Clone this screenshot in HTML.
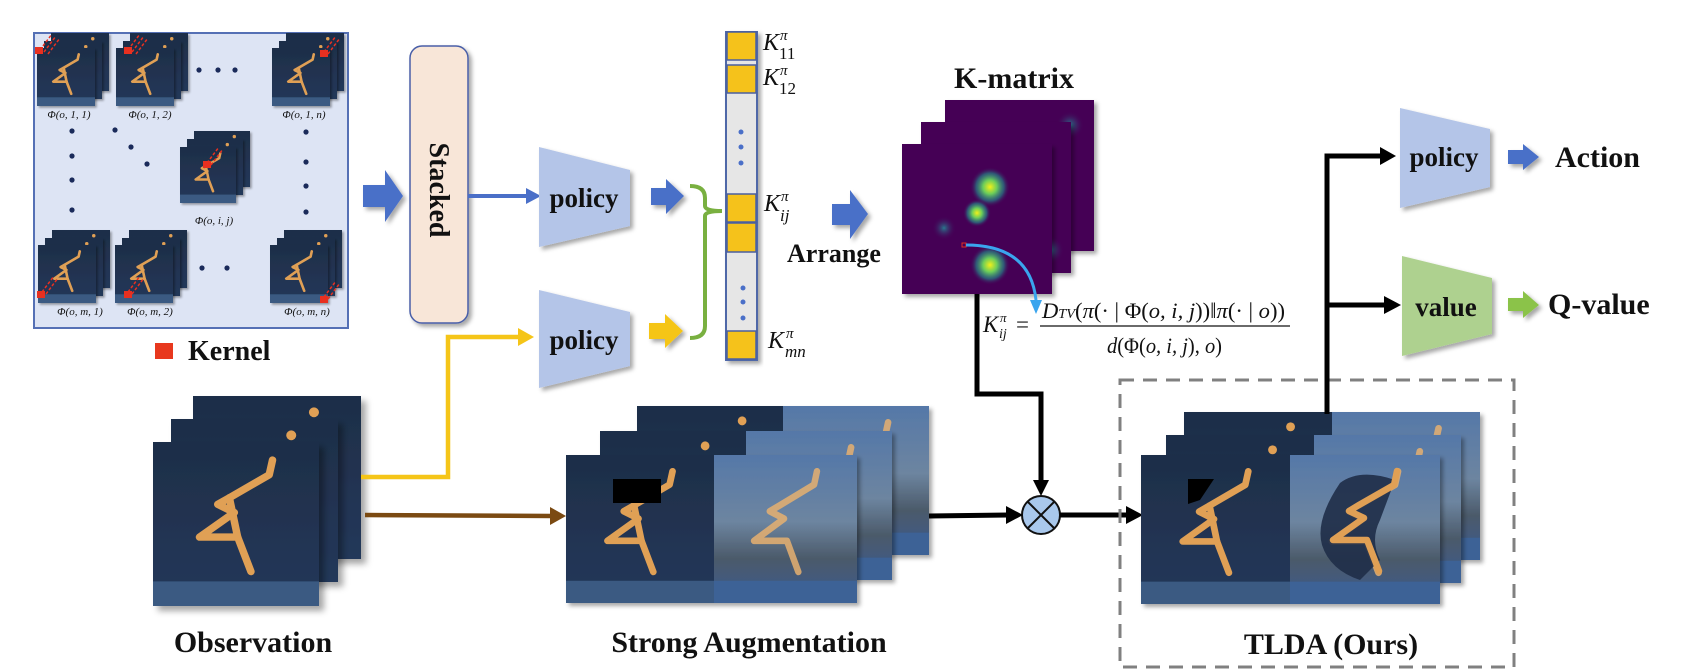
<!DOCTYPE html>
<html><head><meta charset="utf-8"><style>
html,body{margin:0;padding:0;background:#fff;}
svg{display:block;}
.t{font-family:"Liberation Serif",serif;font-weight:bold;}
.m{font-family:"Liberation Serif",serif;font-style:italic;}
.n{font-family:"Liberation Serif",serif;}
</style></head><body>
<svg width="1688" height="672" viewBox="0 0 1688 672" xmlns="http://www.w3.org/2000/svg">
<defs>
  <linearGradient id="bgd" x1="0" y1="0" x2="0" y2="1"><stop offset="0" stop-color="#1e2e48"/><stop offset="1" stop-color="#24385a"/></linearGradient>
  <linearGradient id="harb" x1="0" y1="0" x2="0" y2="1"><stop offset="0" stop-color="#5578a8"/><stop offset="0.45" stop-color="#6d85a0"/><stop offset="0.7" stop-color="#4b5a6a"/><stop offset="1" stop-color="#3a5a90"/></linearGradient>
  <g id="obs">
    <rect x="0" y="0" width="100" height="100" fill="url(#bgd)"/>
    <rect x="0" y="85" width="100" height="15" fill="#3a5a82"/>
    <polyline points="72,11 70,20 46,34 39,38 49,43 28,58 51,58 59,79" fill="none" stroke="#e0a055" stroke-width="4.5" stroke-linecap="round" stroke-linejoin="round"/>
    <line x1="46" y1="34" x2="51" y2="58" stroke="#e0a055" stroke-width="4.5" stroke-linecap="round"/>
  </g>
  <g id="back">
    <rect x="0" y="0" width="100" height="100" fill="url(#bgd)"/>
    <circle cx="72" cy="10" r="3" fill="#e0a055"/>
  </g>
  <g id="harbor">
    <rect x="0" y="0" width="100" height="100" fill="url(#harb)"/>
    <rect x="0" y="85" width="100" height="15" fill="#3d6296"/>
    <polyline points="72,11 70,20 46,34 39,38 49,43 28,58 51,58 59,79" fill="none" stroke="#e6b070" stroke-width="4.5" stroke-linecap="round" stroke-linejoin="round" opacity="0.85"/>
  </g>
  <filter id="sh" x="-10%" y="-10%" width="130%" height="130%"><feDropShadow dx="3" dy="3" stdDeviation="2" flood-color="#000" flood-opacity="0.35"/></filter>
  <radialGradient id="blob"><stop offset="0" stop-color="#f2f01a"/><stop offset="0.35" stop-color="#6ccd5a"/><stop offset="0.7" stop-color="#21918c" stop-opacity="0.6"/><stop offset="1" stop-color="#440154" stop-opacity="0"/></radialGradient>
  <radialGradient id="blob2"><stop offset="0" stop-color="#2a788e"/><stop offset="1" stop-color="#440154" stop-opacity="0"/></radialGradient>
  <marker id="ab" markerWidth="6" markerHeight="6" refX="4" refY="3" orient="auto" markerUnits="strokeWidth"><path d="M0,0 L5,3 L0,6 Z" fill="#4a6fc8"/></marker>
</defs>

<!-- Kernel box -->
<rect x="34" y="33" width="314" height="295" fill="#dde4f4" stroke="#5570b5" stroke-width="2"/>
<!-- thumbnail stacks -->
<g>
  <!-- helper: stack at front (x,y), size 58 -->
  <g transform="translate(51,33) scale(0.58)" filter="url(#sh)"><use href="#back"/></g>
  <g transform="translate(44,41) scale(0.58)" filter="url(#sh)"><use href="#back"/></g>
  <g transform="translate(37,48) scale(0.58)" filter="url(#sh)"><use href="#obs"/></g>
  <rect x="35" y="47" width="8" height="7" fill="#e83020"/>
  <path d="M40,50 L52,34 M44,52 L56,36 M48,54 L60,38" stroke="#e83020" stroke-width="1.5" stroke-dasharray="3,2"/>

  <g transform="translate(130,33) scale(0.58)" filter="url(#sh)"><use href="#back"/></g>
  <g transform="translate(123,41) scale(0.58)" filter="url(#sh)"><use href="#back"/></g>
  <g transform="translate(116,48) scale(0.58)" filter="url(#sh)"><use href="#obs"/></g>
  <rect x="124" y="47" width="8" height="7" fill="#e83020"/>
  <path d="M128,50 L140,34 M132,52 L144,36 M136,54 L148,38" stroke="#e83020" stroke-width="1.5" stroke-dasharray="3,2"/>

  <g transform="translate(286,33) scale(0.58)" filter="url(#sh)"><use href="#back"/></g>
  <g transform="translate(279,41) scale(0.58)" filter="url(#sh)"><use href="#back"/></g>
  <g transform="translate(272,48) scale(0.58)" filter="url(#sh)"><use href="#obs"/></g>
  <rect x="320" y="50" width="8" height="7" fill="#e83020"/>
  <path d="M324,52 L336,36 M328,54 L340,38" stroke="#e83020" stroke-width="1.5" stroke-dasharray="3,2"/>

  <g transform="translate(194,131) scale(0.56)" filter="url(#sh)"><use href="#back"/></g>
  <g transform="translate(187,139) scale(0.56)" filter="url(#sh)"><use href="#back"/></g>
  <g transform="translate(180,147) scale(0.56)" filter="url(#sh)"><use href="#obs"/></g>
  <rect x="203" y="161" width="8" height="7" fill="#e83020"/>
  <path d="M207,163 L219,147 M211,165 L223,149" stroke="#e83020" stroke-width="1.5" stroke-dasharray="3,2"/>

  <g transform="translate(52,230) scale(0.58)" filter="url(#sh)"><use href="#back"/></g>
  <g transform="translate(45,238) scale(0.58)" filter="url(#sh)"><use href="#back"/></g>
  <g transform="translate(38,245) scale(0.58)" filter="url(#sh)"><use href="#obs"/></g>
  <rect x="37" y="291" width="8" height="7" fill="#e83020"/>
  <path d="M42,292 L54,276 M46,294 L58,278" stroke="#e83020" stroke-width="1.5" stroke-dasharray="3,2"/>

  <g transform="translate(129,230) scale(0.58)" filter="url(#sh)"><use href="#back"/></g>
  <g transform="translate(122,238) scale(0.58)" filter="url(#sh)"><use href="#back"/></g>
  <g transform="translate(115,245) scale(0.58)" filter="url(#sh)"><use href="#obs"/></g>
  <rect x="124" y="291" width="8" height="7" fill="#e83020"/>
  <path d="M128,292 L140,276 M132,294 L144,278" stroke="#e83020" stroke-width="1.5" stroke-dasharray="3,2"/>

  <g transform="translate(284,230) scale(0.58)" filter="url(#sh)"><use href="#back"/></g>
  <g transform="translate(277,238) scale(0.58)" filter="url(#sh)"><use href="#back"/></g>
  <g transform="translate(270,245) scale(0.58)" filter="url(#sh)"><use href="#obs"/></g>
  <rect x="320" y="296" width="8" height="7" fill="#e83020"/>
  <path d="M324,297 L336,281 M328,299 L340,283" stroke="#e83020" stroke-width="1.5" stroke-dasharray="3,2"/>
</g>
<g class="m" font-size="11" fill="#111" text-anchor="middle">
  <text x="69" y="118">Φ(o, 1, 1)</text>
  <text x="150" y="118">Φ(o, 1, 2)</text>
  <text x="304" y="118">Φ(o, 1, n)</text>
  <text x="214" y="224">Φ(o, i, j)</text>
  <text x="80" y="315">Φ(o, m, 1)</text>
  <text x="150" y="315">Φ(o, m, 2)</text>
  <text x="307" y="315">Φ(o, m, n)</text>
</g>
<g fill="#1a2a5a">
  <circle cx="199" cy="70" r="2.6"/><circle cx="218" cy="70" r="2.6"/><circle cx="235" cy="70" r="2.6"/>
  <circle cx="72" cy="131" r="2.6"/><circle cx="72" cy="156" r="2.6"/><circle cx="72" cy="180" r="2.6"/><circle cx="72" cy="210" r="2.6"/>
  <circle cx="115" cy="130" r="2.6"/><circle cx="131" cy="147" r="2.6"/><circle cx="147" cy="164" r="2.6"/>
  <circle cx="306" cy="132" r="2.6"/><circle cx="306" cy="162" r="2.6"/><circle cx="306" cy="186" r="2.6"/><circle cx="306" cy="212" r="2.6"/>
  <circle cx="202" cy="268" r="2.6"/><circle cx="227" cy="268" r="2.6"/>
</g>
<rect x="155" y="343" width="18" height="16" fill="#e8381e"/>
<text x="188" y="360" class="t" font-size="28" fill="#111">Kernel</text>

<!-- Blue fat arrow -->
<path d="M363,185 L385,185 L385,170 L403,196 L385,222 L385,207 L363,207 Z" fill="#4a6fc8" filter="url(#sh)"/>

<!-- Stacked -->
<rect x="410" y="46" width="58" height="277" rx="12" fill="#f8e6d8" stroke="#4a5fa8" stroke-width="1.5" filter="url(#sh)"/>
<text class="t" font-size="28" fill="#111" transform="translate(430,190) rotate(90)" text-anchor="middle">Stacked</text>

<!-- blue line to policy1 -->
<line x1="468" y1="196" x2="528" y2="196" stroke="#4a6fc8" stroke-width="4"/>
<path d="M526,188 L541,196 L526,204 Z" fill="#4a6fc8"/>

<!-- policy1 -->
<path d="M539,147 L630,170 L630,226 L539,247 Z" fill="#b4c5e8" filter="url(#sh)"/>
<text x="584" y="207" class="t" font-size="27" text-anchor="middle" fill="#111">policy</text>
<!-- policy2 -->
<path d="M539,290 L630,312 L630,366 L539,388 Z" fill="#b4c5e8" filter="url(#sh)"/>
<text x="584" y="349" class="t" font-size="27" text-anchor="middle" fill="#111">policy</text>

<!-- small arrows -->
<path d="M651,188 L666,188 L666,179 L684,196 L666,214 L666,205 L651,205 Z" fill="#4a6fc8" filter="url(#sh)"/>
<path d="M649,323 L665,323 L665,314 L683,331 L665,348 L665,339 L649,339 Z" fill="#f5c518" filter="url(#sh)"/>

<!-- green brace -->
<path d="M690,186 Q705,186 705,198 L705,206 Q705,211 722,211 Q705,211 705,216 L705,326 Q705,338 690,338" fill="none" stroke="#79b040" stroke-width="4"/>

<!-- K column -->
<rect x="726" y="32" width="31" height="328" fill="#e6e6e6" stroke="#5068a8" stroke-width="2" filter="url(#sh)"/>
<g fill="#f5c21b" stroke="#4a5fa0" stroke-width="1.5">
  <rect x="727" y="32" width="29" height="28"/>
  <rect x="727" y="65" width="29" height="28"/>
  <rect x="727" y="194" width="29" height="28"/>
  <rect x="727" y="223" width="29" height="29"/>
  <rect x="727" y="331" width="29" height="28"/>
</g>
<g fill="#4a6fc8">
  <circle cx="741" cy="132" r="2.5"/><circle cx="741" cy="147" r="2.5"/><circle cx="741" cy="163" r="2.5"/>
  <circle cx="743" cy="288" r="2.5"/><circle cx="743" cy="302" r="2.5"/><circle cx="743" cy="318" r="2.5"/>
</g>
<g class="m" font-size="24" fill="#111">
  <text x="763" y="50">K</text><text x="780" y="40" font-size="15">π</text><text x="779" y="59" font-size="17" font-style="normal">11</text>
  <text x="763" y="85">K</text><text x="780" y="75" font-size="15">π</text><text x="779" y="94" font-size="17" font-style="normal">12</text>
  <text x="764" y="211">K</text><text x="781" y="201" font-size="15">π</text><text x="780" y="221" font-size="17">ij</text>
  <text x="768" y="348">K</text><text x="786" y="338" font-size="15">π</text><text x="785" y="357" font-size="17">mn</text>
</g>

<!-- arrow to arrange -->
<path d="M832,204 L850,204 L850,190 L868,214 L850,239 L850,225 L832,225 Z" fill="#4a6fc8" filter="url(#sh)"/>
<text x="787" y="262" class="t" font-size="26" fill="#111">Arrange</text>

<!-- K-matrix -->
<text x="1014" y="88" class="t" font-size="30" text-anchor="middle" fill="#111">K-matrix</text>
<rect x="945" y="100" width="149" height="151" fill="#440154" filter="url(#sh)"/>
<circle cx="1070" cy="125" r="14" fill="url(#blob2)"/>
<rect x="921" y="122" width="150" height="151" fill="#440154" filter="url(#sh)"/>
<circle cx="1050" cy="250" r="14" fill="url(#blob2)"/>
<rect x="902" y="144" width="150" height="150" fill="#440154" filter="url(#sh)"/>
<circle cx="944" cy="228" r="12" fill="url(#blob2)"/>
<circle cx="990" cy="187" r="20" fill="url(#blob)"/>
<circle cx="977" cy="213" r="14" fill="url(#blob)"/>
<circle cx="990" cy="265" r="20" fill="url(#blob)"/>
<rect x="962" y="243" width="4" height="4" fill="none" stroke="#e03020" stroke-width="1"/>
<path d="M966,245 Q1030,245 1036,300" fill="none" stroke="#3aa5ee" stroke-width="3"/>
<path d="M1030,300 L1036,314 L1042,300 Z" fill="#3aa5ee"/>

<!-- formula -->
<g class="m" fill="#111">
  <text x="983" y="332" font-size="23">K</text><text x="1000" y="322" font-size="13">π</text><text x="999" y="338" font-size="14">ij</text>
  <text x="1016" y="332" font-size="23" font-style="normal">=</text>
  <text x="1042" y="318" font-size="22" textLength="243" lengthAdjust="spacingAndGlyphs">D<tspan font-size="14">TV</tspan><tspan font-style="normal">(</tspan>π<tspan font-style="normal">(· | Φ(</tspan>o, i, j<tspan font-style="normal">))‖</tspan>π<tspan font-style="normal">(· | </tspan>o<tspan font-style="normal">))</tspan></text>
  <line x1="1040" y1="326" x2="1290" y2="326" stroke="#111" stroke-width="1.3"/>
  <text x="1107" y="353" font-size="22" textLength="115" lengthAdjust="spacingAndGlyphs">d<tspan font-style="normal">(Φ(</tspan>o, i, j<tspan font-style="normal">), </tspan>o<tspan font-style="normal">)</tspan></text>
</g>

<!-- black connector heatmap->otimes -->
<polyline points="977,294 977,394 1041,394 1041,482" fill="none" stroke="#000" stroke-width="5"/>
<path d="M1033,480 L1041,496 L1049,480 Z" fill="#000"/>
<circle cx="1041" cy="515" r="19" fill="#a9c8ec" stroke="#111" stroke-width="2"/>
<line x1="1028" y1="502" x2="1054" y2="528" stroke="#111" stroke-width="2"/>
<line x1="1054" y1="502" x2="1028" y2="528" stroke="#111" stroke-width="2"/>

<!-- Observation stack -->
<g transform="translate(193,396) scale(1.68,1.63)" filter="url(#sh)"><use href="#back"/></g>
<g transform="translate(171,419) scale(1.67,1.63)" filter="url(#sh)"><use href="#back"/></g>
<g transform="translate(153,442) scale(1.66,1.64)" filter="url(#sh)"><use href="#obs"/></g>
<text x="253" y="652" class="t" font-size="30" text-anchor="middle" fill="#111">Observation</text>

<!-- yellow connector -->
<polyline points="361,477 448,477 448,337 520,337" fill="none" stroke="#f5c518" stroke-width="4.5"/>
<path d="M518,328 L534,337 L518,346 Z" fill="#f5c518"/>
<!-- brown -->
<line x1="365" y1="515" x2="552" y2="516" stroke="#7b4a12" stroke-width="4.5"/>
<path d="M550,507 L566,516 L550,525 Z" fill="#7b4a12"/>

<!-- Strong augmentation stack -->
<g filter="url(#sh)">
  <g transform="translate(637,406) scale(1.46,1.49)"><use href="#back"/></g>
  <g transform="translate(783,406) scale(1.46,1.49)"><use href="#harbor"/></g>
</g>
<g filter="url(#sh)">
  <g transform="translate(600,431) scale(1.46,1.49)"><use href="#back"/></g>
  <g transform="translate(746,431) scale(1.46,1.49)"><use href="#harbor"/></g>
</g>
<g filter="url(#sh)">
  <g transform="translate(566,455) scale(1.48,1.48)"><use href="#obs"/></g>
  <g transform="translate(714,455) scale(1.43,1.48)"><use href="#harbor"/></g>
</g>
<rect x="613" y="479" width="48" height="24" fill="#000"/>
<text x="749" y="652" class="t" font-size="30" text-anchor="middle" fill="#111">Strong Augmentation</text>

<!-- aug -> otimes -->
<line x1="929" y1="516" x2="1008" y2="515" stroke="#000" stroke-width="5"/>
<path d="M1006,506 L1023,515 L1006,524 Z" fill="#000"/>
<line x1="1060" y1="515" x2="1128" y2="515" stroke="#000" stroke-width="5"/>
<path d="M1126,506 L1143,515 L1126,524 Z" fill="#000"/>

<!-- dashed box -->
<rect x="1120" y="380" width="394" height="287" fill="none" stroke="#808080" stroke-width="3" stroke-dasharray="14,9"/>

<!-- TLDA stack -->
<g filter="url(#sh)">
  <g transform="translate(1184,412) scale(1.48,1.48)"><use href="#back"/></g>
  <g transform="translate(1332,412) scale(1.48,1.48)"><use href="#harbor"/></g>
</g>
<g filter="url(#sh)">
  <g transform="translate(1166,435) scale(1.48,1.48)"><use href="#back"/></g>
  <g transform="translate(1314,435) scale(1.47,1.48)"><use href="#harbor"/></g>
</g>
<g filter="url(#sh)">
  <g transform="translate(1141,455) scale(1.49,1.49)"><use href="#obs"/></g>
  <g transform="translate(1290,455) scale(1.50,1.49)"><use href="#harbor"/></g>
</g>
<path d="M1188,479 L1214,479 L1200,500 L1188,504 Z" fill="#000"/>
<path d="M1340,483 Q1360,468 1395,480 L1380,520 Q1370,540 1380,560 L1360,580 Q1330,570 1322,545 Q1315,520 1340,483 Z" fill="#1f2e48" opacity="0.9"/>
<polyline points="1397,471 1394,485 1359,505 1349,511 1364,518 1333,540 1367,540 1379,571" fill="none" stroke="#e0a055" stroke-width="6.5" stroke-linecap="round" stroke-linejoin="round"/>
<text x="1331" y="654" class="t" font-size="30" text-anchor="middle" fill="#111">TLDA (Ours)</text>

<!-- branch up -->
<polyline points="1327,414 1327,156 1382,156" fill="none" stroke="#000" stroke-width="5"/>
<path d="M1380,147 L1396,156 L1380,165 Z" fill="#000"/>
<line x1="1327" y1="305" x2="1386" y2="305" stroke="#000" stroke-width="5"/>
<path d="M1384,296 L1401,305 L1384,314 Z" fill="#000"/>

<!-- policy3 -->
<path d="M1400,108 L1490,129 L1490,187 L1400,208 Z" fill="#b4c5e8" filter="url(#sh)"/>
<text x="1444" y="166" class="t" font-size="27" text-anchor="middle" fill="#111">policy</text>
<path d="M1508,150 L1523,150 L1523,144 L1539,157 L1523,170 L1523,164 L1508,164 Z" fill="#4a6fc8" filter="url(#sh)"/>
<text x="1555" y="167" class="t" font-size="30" fill="#111">Action</text>

<!-- value -->
<path d="M1402,256 L1492,278 L1492,334 L1402,356 Z" fill="#aed18f" filter="url(#sh)"/>
<text x="1446" y="316" class="t" font-size="27" text-anchor="middle" fill="#111">value</text>
<path d="M1508,298 L1523,298 L1523,291 L1539,305 L1523,318 L1523,311 L1508,311 Z" fill="#8bc34a" filter="url(#sh)"/>
<text x="1548" y="314" class="t" font-size="30" fill="#111">Q-value</text>
</svg>
</body></html>
